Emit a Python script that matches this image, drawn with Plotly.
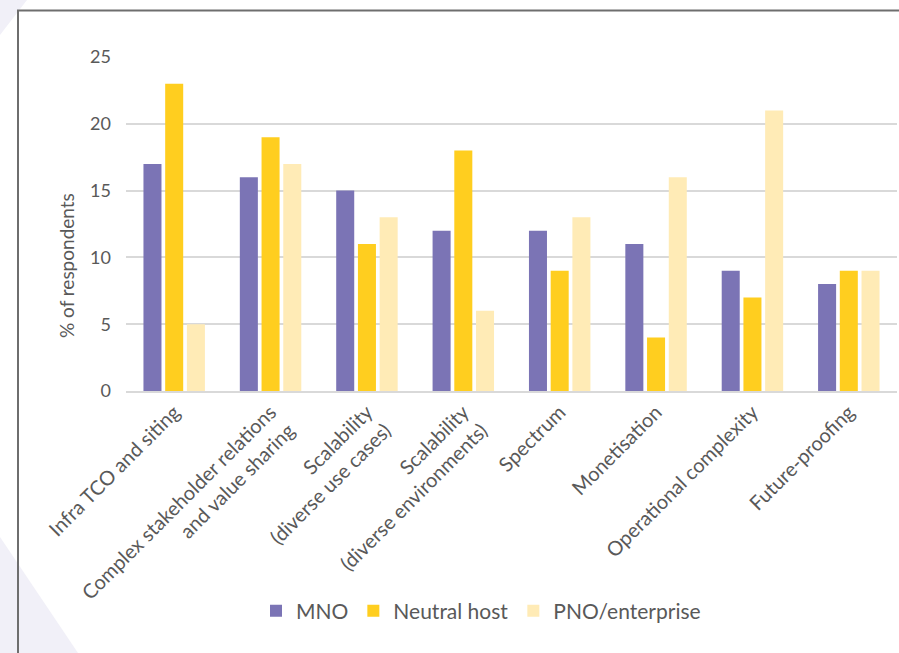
import plotly.graph_objects as go

categories = [
    "Infra TCO and siting",
    "Complex stakeholder relations<br>and value sharing",
    "Scalability<br>(diverse use cases)",
    "Scalability<br>(diverse environments)",
    "Spectrum",
    "Monetisation",
    "Operational complexity",
    "Future-proofing",
]
mno = [17, 16, 15, 12, 12, 11, 9, 8]
neutral_host = [23, 19, 11, 18, 9, 4, 7, 9]
pno_enterprise = [5, 17, 13, 6, 13, 16, 21, 9]
series_names = ["MNO", "Neutral host", "PNO/enterprise"]
colors = ["#7B74B5", "#FFCE1F", "#FFEBB6"]
y_ticks = [0, 5, 10, 15, 20, 25]

W, H = 899, 653
L, R, T, B = 126, 2, 57, 262
PW, PH = W - L - R, H - T - B

def px(x):
    return (x - L) / PW

def py(y):
    return (H - B - y) / PH

FONT = "Lato, 'Open Sans', sans-serif"
TXT = "#595959"

fig = go.Figure()
for name, vals, c in zip(series_names, [mno, neutral_host, pno_enterprise], colors):
    fig.add_trace(go.Bar(x=categories, y=vals, name=name, marker=dict(color=c, line=dict(width=0))))

shapes = [
    dict(type="path", xref="paper", yref="paper", layer="below",
         path=f"M {px(0)},{py(0)} L {px(27)},{py(0)} L {px(0)},{py(35)} Z",
         fillcolor="#F1F0F8", line=dict(width=0)),
    dict(type="path", xref="paper", yref="paper", layer="below",
         path=f"M {px(0)},{py(537)} L {px(78)},{py(653)} L {px(0)},{py(653)} Z",
         fillcolor="#F1F0F8", line=dict(width=0)),
    dict(type="rect", xref="paper", yref="paper", layer="below",
         x0=px(18), y0=py(10.5), x1=px(910), y1=py(670),
         fillcolor="rgba(0,0,0,0)", line=dict(color="#6E6E6E", width=2)),
]

fig.update_layout(
    width=W, height=H,
    margin=dict(l=L, r=R, t=T, b=B),
    paper_bgcolor="white", plot_bgcolor="white",
    barmode="group", bargap=0.324, bargroupgap=0.17,
    font=dict(family=FONT, color=TXT, size=19),
    showlegend=True,
    legend=dict(orientation="h", x=px(481), xanchor="center", y=py(611), yanchor="middle",
                font=dict(size=21, color=TXT), itemwidth=30, traceorder="normal"),
    shapes=shapes,
    annotations=[dict(text="% of respondents", xref="paper", yref="paper",
                      x=px(66), y=py(266), textangle=-90, showarrow=False,
                      font=dict(size=19, color=TXT), xanchor="center", yanchor="middle")],
    xaxis=dict(tickangle=-45, tickfont=dict(size=20, color=TXT), showline=True,
               linecolor="#D9D9D9", linewidth=1.5, ticks="", showgrid=False),
    yaxis=dict(range=[0, 25], tickvals=y_ticks, showgrid=True, gridcolor="#D9D9D9",
               gridwidth=1.5, zeroline=False, tickfont=dict(size=18, color=TXT),
               ticklabelstandoff=14, showline=False),
)

fig.write_html("out.html")
